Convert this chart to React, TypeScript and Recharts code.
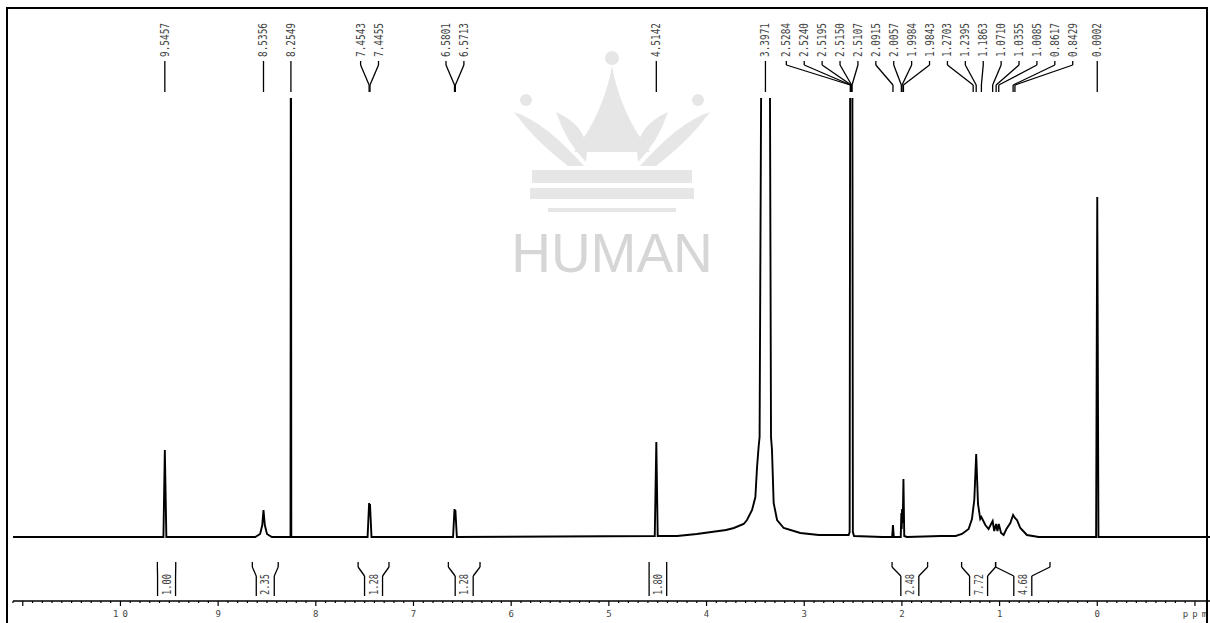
import React from 'react';
import { LineChart, Line, XAxis, YAxis, ReferenceLine, ReferenceDot } from 'recharts';

// ---------------- data ----------------
const specPpm = [
  11.15, 10.5, 9.9, 9.56, 9.5457, 9.53,
  8.62, 8.57, 8.548, 8.5356, 8.522, 8.5, 8.45,
  8.259, 8.2549, 8.251,
  7.47, 7.4543, 7.4499, 7.4455, 7.43,
  6.595, 6.5801, 6.5757, 6.5713, 6.556,
  4.53, 4.5142, 4.5,
  4.3, 4.1, 3.95, 3.8, 3.72, 3.62, 3.586, 3.534, 3.5, 3.483, 3.467, 3.457, 3.432, 3.3971, 3.357, 3.34, 3.33, 3.313, 3.278, 3.21, 3.04, 2.85, 2.7,
  2.545, 2.535, 2.525, 2.5195, 2.512, 2.502, 2.49,
  2.2, 2.1, 2.0915, 2.083, 2.012, 2.0057, 2.002, 1.9984, 1.9914, 1.9843, 1.976, 1.95,
  1.6, 1.45, 1.385, 1.317, 1.283, 1.259, 1.2395, 1.221, 1.198, 1.1863, 1.146, 1.113, 1.071, 1.055, 1.0355, 1.022, 1.0085, 0.985, 0.959, 0.93, 0.89, 0.8617, 0.8429, 0.822, 0.788, 0.72, 0.6,
  0.3, 0.012, 0.0002, -0.012, -0.5, -1.2,
];
const specIntensity = [
  0, 0, 0, 0, 87, 0,
  0, 3, 12, 27, 12, 3, 0,
  0, 700, 0,
  0, 34, 27, 33, 0,
  0, 28, 22, 27, 0,
  1, 95, 1,
  1, 3, 5, 7, 9, 13, 17, 27, 40, 70, 90, 100, 650, 2000, 650, 100, 87, 34, 17, 9, 4, 2, 2,
  2, 5, 900, 1500, 900, 5, 1,
  0, 0, 12, 0, 0, 24, 8, 28, 14, 58, 1, 0,
  1, 1, 3, 8, 18, 37, 83, 33, 18, 20, 12, 8, 16, 6, 13, 6, 13, 4, 2, 8, 14, 22, 19, 17, 9, 2, 0,
  0, 0, 340, 0, 0, 0,
];

const peakLabels = [
  9.5457, 8.5356, 8.2549, 7.4543, 7.4455, 6.5801, 6.5713, 4.5142, 3.3971,
  2.5284, 2.524, 2.5195, 2.515, 2.5107, 2.0915, 2.0057, 1.9984, 1.9843,
  1.2703, 1.2395, 1.1863, 1.071, 1.0355, 1.0085, 0.8617, 0.8429, 0.0002,
];

const integralStart = [9.622, 8.65, 7.567, 6.643, 4.588, 2.101, 1.389, 1.041];
const integralEnd = [9.434, 8.385, 7.251, 6.319, 4.408, 1.737, 1.041, 0.484];
const integralValues = ['1.00', '2.35', '1.28', '1.28', '1.80', '2.48', '7.72', '4.68'];

const majorTicks = [11, 10, 9, 8, 7, 6, 5, 4, 3, 2, 1, 0, -1];
const majorTickLabels = ['', '10', '9', '8', '7', '6', '5', '4', '3', '2', '1', '0', 'ppm'];

// ---------------- layout ----------------
const W = 1210;
const H = 623;
const PLOT_LEFT = 13;
const PLOT_TOP = 98;
const AXIS_Y = 601;
const BASE_Y = 537;
const PPM_LEFT = 11.1;
const PPM_RIGHT = -1.154;
const PX_PER_PPM = (W - PLOT_LEFT) / (PPM_LEFT - PPM_RIGHT);
const v = (py: number) => BASE_Y - py; // pixel row -> intensity value

const FONT = '"DejaVu Sans Mono", monospace';
const TEXT_COLOR = '#444';

const specData = specPpm.map((p, i) => ({ ppm: p, v: specIntensity[i] }));

// minor ticks every 0.1 ppm between majors
const allTicks: number[] = [];
majorTicks.forEach((m) => {
  for (let k = 0; k < 10; k++) {
    const t = Math.round((m + k * 0.1) * 10) / 10;
    if (t <= PPM_LEFT + 1e-9 && t >= PPM_RIGHT - 1e-9 && !allTicks.includes(t)) allTicks.push(t);
  }
});

// cluster label layout
const GAP = 17.9 / PX_PER_PPM;
type Cl = { vals: number[]; center: number };
let clusters: Cl[] = peakLabels.map((p) => ({ vals: [p], center: p }));
const posOf = (c: Cl, i: number) => c.center + ((c.vals.length - 1) / 2 - i) * GAP;
let merged = true;
while (merged) {
  merged = false;
  for (let i = 0; i < clusters.length - 1; i++) {
    const a = clusters[i];
    const b = clusters[i + 1];
    if (posOf(a, a.vals.length - 1) - posOf(b, 0) < GAP - 1e-9) {
      const vals = [...a.vals, ...b.vals];
      clusters.splice(i, 2, { vals, center: vals.reduce((s, x) => s + x, 0) / vals.length });
      merged = true;
      break;
    }
  }
}
const labelPlacements: { peak: number; at: number }[] = [];
clusters.forEach((c) => c.vals.forEach((p, i) => labelPlacements.push({ peak: p, at: posOf(c, i) })));

const AxisTick = (props: any) => {
  const { x, y, payload } = props;
  const val = payload.value as number;
  const mi = majorTicks.findIndex((m) => Math.abs(m - val) < 1e-6);
  const isMajor = mi >= 0;
  const label = isMajor ? majorTickLabels[mi] : '';
  return (
    <g>
      <line x1={x} x2={x} y1={y} y2={y + (isMajor ? 5 : 2)} stroke="#000" strokeWidth={1.2} />
      {label ? (
        <text x={x} y={y + 16} dx={2} textAnchor="middle" fontFamily={FONT} fontSize={9} letterSpacing={4} fill={TEXT_COLOR}>
          {label}
        </text>
      ) : null}
    </g>
  );
};

const seg = (key: string, x1: number, y1: number, x2: number, y2: number, color = '#000', w = 1.3) => (
  <ReferenceLine
    key={key}
    segment={[{ x: x1, y: v(y1) }, { x: x2, y: v(y2) }]}
    stroke={color}
    strokeWidth={w}
    ifOverflow="visible"
  />
);

const rotText = (txt: string, len: number) => (props: any) => {
  const { cx, cy } = props;
  return (
    <text
      x={cx}
      y={cy}
      transform={`rotate(-90 ${cx} ${cy})`}
      textAnchor="start"
      dominantBaseline="central"
      fontFamily={FONT}
      fontSize={11.5}
      textLength={len}
      lengthAdjust="spacingAndGlyphs"
      fill={TEXT_COLOR}
    >
      {txt}
    </text>
  );
};

const Watermark = () => (
  <svg width={W} height={H} style={{ position: 'absolute', left: 0, top: 0 }}>
    <g fill="#e6e6e6">
      <circle cx={612} cy={58} r={7} />
      <path d="M612,66 Q604,112 574,152 L650,152 Q620,112 612,66 Z" />
      <circle cx={526} cy={100} r={6} />
      <circle cx={698} cy={100} r={6} />
      <path d="M514,112 Q545,122 584,166 L568,166 Q534,140 514,112 Z" />
      <path d="M710,112 Q679,122 640,166 L656,166 Q690,140 710,112 Z" />
      <path d="M556,112 Q592,128 586,162 Q566,142 556,112 Z" />
      <path d="M668,112 Q632,128 638,162 Q658,142 668,112 Z" />
      <rect x={532} y={170} width={160} height={13} />
      <rect x={530} y={188} width={164} height={11} />
      <rect x={548} y={208} width={128} height={4} />
    </g>
    <text x={612} y={272} textAnchor="middle" fontFamily='"Liberation Sans", Arial, sans-serif' fontSize={55} fill="#d6d6d6">
      HUMAN
    </text>
  </svg>
);

export default function App() {
  const innerHalf = 9 / PX_PER_PPM;
  return (
    <div style={{ position: 'absolute', left: 0, top: 0, width: W, height: H, overflow: 'hidden', background: '#fff' }}>
      <Watermark />
      <div style={{ position: 'absolute', left: 0, top: 0 }}>
        <LineChart width={W} height={H} data={specData} margin={{ top: PLOT_TOP, right: 0, bottom: 0, left: PLOT_LEFT }}>
          <XAxis
            dataKey="ppm"
            type="number"
            domain={[PPM_RIGHT, PPM_LEFT]}
            reversed
            allowDataOverflow
            ticks={allTicks}
            interval={0}
            tick={<AxisTick />}
            tickLine={false}
            tickSize={0}
            tickMargin={0}
            axisLine={{ stroke: '#000', strokeWidth: 1.5 }}
            height={H - AXIS_Y}
          />
          <YAxis type="number" hide domain={[v(AXIS_Y), v(PLOT_TOP)]} allowDataOverflow />
          <Line
            type="linear"
            dataKey="v"
            stroke="#000"
            strokeWidth={1.9}
            dot={false}
            isAnimationActive={false}
          />
          {labelPlacements.map((l, i) => [
            seg(`pa${i}`, l.at, 61, l.at, 65),
            seg(`pb${i}`, l.at, 65, l.peak, 85),
            seg(`pc${i}`, l.peak, 85, l.peak, 92),
            <ReferenceDot
              key={`pt${i}`}
              x={l.at}
              y={v(57)}
              r={0}
              ifOverflow="visible"
              shape={rotText(l.peak.toFixed(4), 34)}
            />,
          ])}
          {integralStart.map((s, i) => {
            const e = integralEnd[i];
            const c = (s + e) / 2;
            const half = (s - e) / 2;
            const ih = Math.min(innerHalf, half);
            const il = c + ih;
            const ir = c - ih;
            return [
              seg(`ia${i}`, s, 562, s, 567),
              seg(`ib${i}`, s, 567, il, 576),
              seg(`ic${i}`, il, 576, il, 596),
              seg(`id${i}`, e, 562, e, 567),
              seg(`ie${i}`, e, 567, ir, 576),
              seg(`if${i}`, ir, 576, ir, 596),
              <ReferenceDot
                key={`it${i}`}
                x={c}
                y={v(595)}
                r={0}
                ifOverflow="visible"
                shape={rotText(integralValues[i], 21)}
              />,
            ];
          })}
        </LineChart>
      </div>
      <div
        style={{
          position: 'absolute',
          left: 6,
          top: 7,
          width: 1198,
          height: 700,
          borderLeft: '2px solid #000',
          borderTop: '2px solid #000',
          borderRight: '2px solid #000',
        }}
      />
    </div>
  );
}
